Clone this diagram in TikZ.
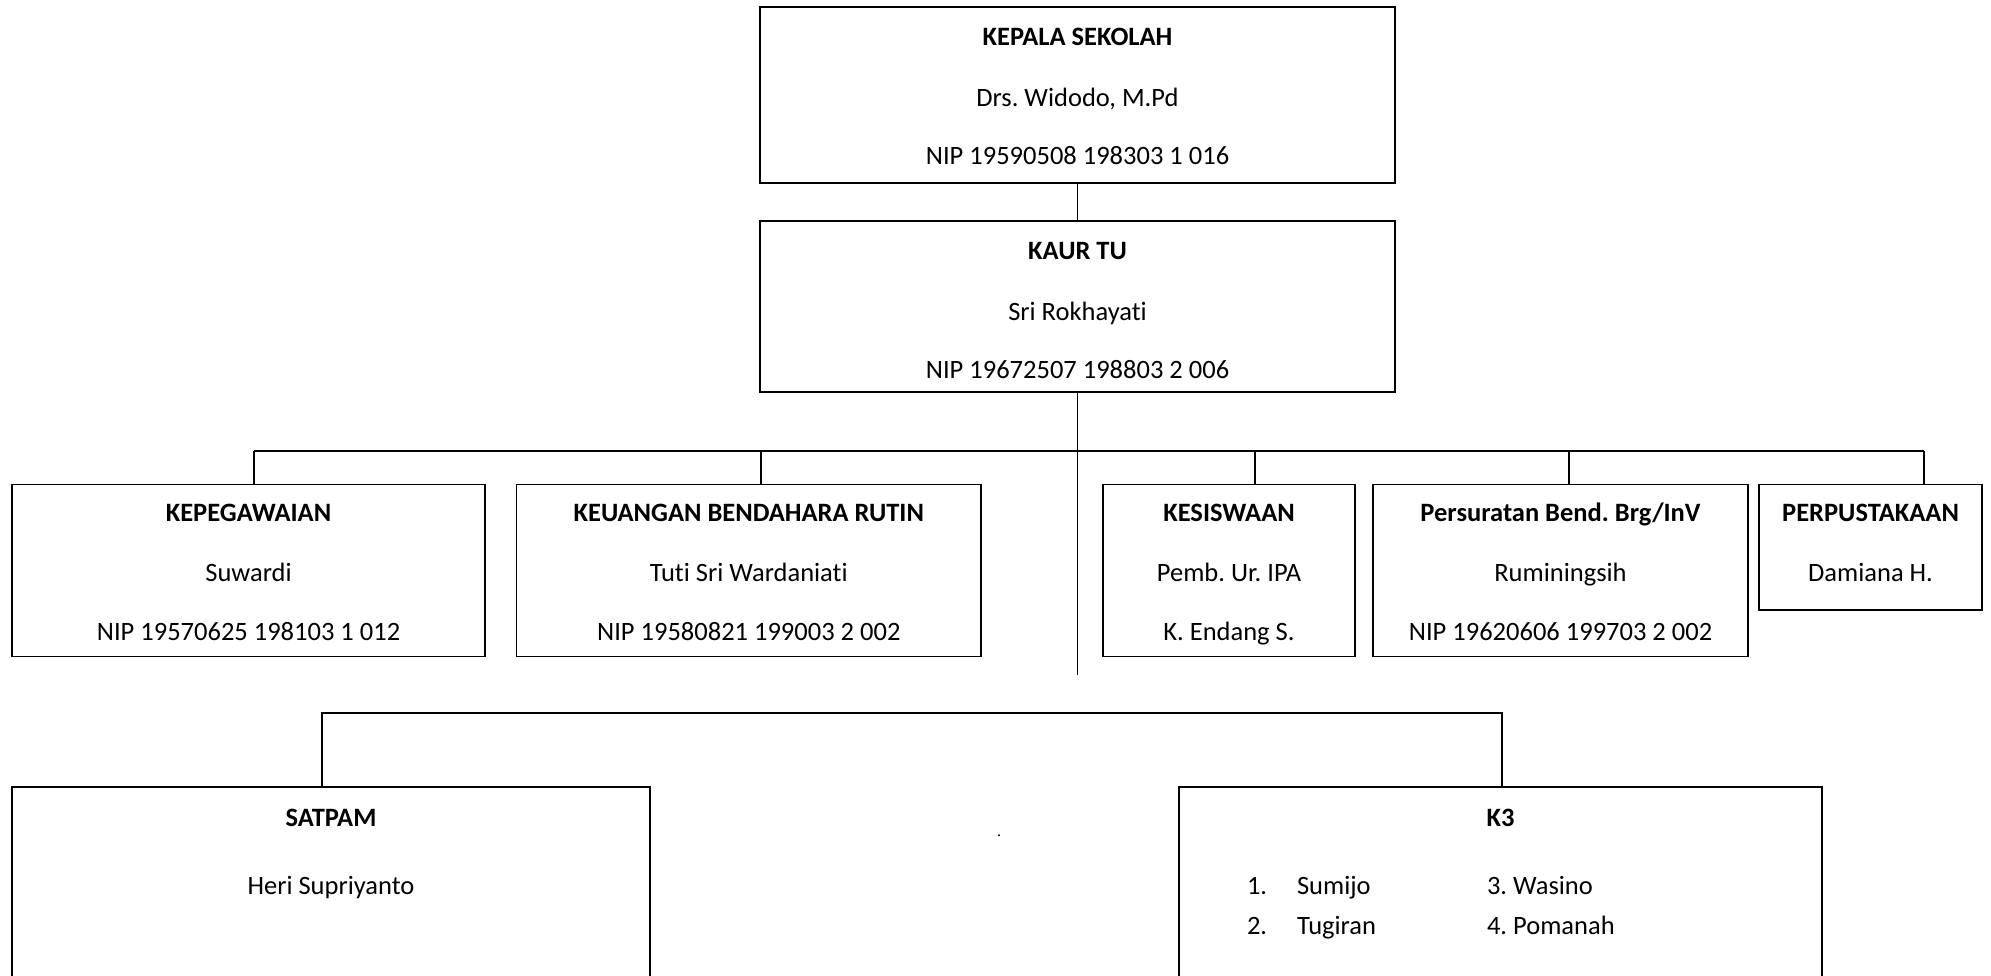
\documentclass[tikz,border=0pt]{standalone}
\usepackage{fontspec}
\setmainfont[Ligatures=NoCommon]{Carlito}
\frenchspacing
\begin{document}
\begin{tikzpicture}[x=1pt,y=-1pt,
  box/.style={draw, line width=1.8pt, inner sep=0pt, outer sep=0pt, anchor=north west},
  conn/.style={line width=1.8pt},
  txt/.style={inner sep=0pt, outer sep=0pt, anchor=base, font=\fontsize{26.5}{32}\selectfont},
  ttl/.style={txt, font=\fontsize{26.5}{32}\selectfont\bfseries}]
\clip (0,0) rectangle (1991,976);
\fill[white] (0,0) rectangle (1991,976);

% boxes
\node[box, minimum width=635pt, minimum height=175.5pt] (ks) at (760,7.3) {};
\node[box, minimum width=635pt, minimum height=171pt] (kaur) at (760,220.7) {};
\node[box, minimum width=473pt, minimum height=172pt] (kep) at (12,484.5) {};
\node[box, minimum width=464.5pt, minimum height=172pt] (keu) at (516.5,484.5) {};
\node[box, minimum width=252pt, minimum height=172pt] (kes) at (1103,484.5) {};
\node[box, minimum width=375pt, minimum height=172pt] (per) at (1373,484.5) {};
\node[box, minimum width=222.5pt, minimum height=125.5pt] (pus) at (1759.3,484.5) {};
\node[box, minimum width=638pt, minimum height=260pt] (sat) at (12,787.3) {};
\node[box, minimum width=643pt, minimum height=260pt] (k3) at (1179,787.3) {};

% texts
\node[ttl] (ksA) at ([yshift=-38pt]ks.north) {KEPALA SEKOLAH};
\node[txt] (ksB) at ([yshift=-99.5pt]ks.north) {Drs. Widodo, M.Pd};
\node[txt] (ksC) at ([yshift=-157.7pt]ks.north) {NIP 19590508 198303 1 016};

\node[ttl] (kaurA) at ([yshift=-39.3pt]kaur.north) {KAUR TU};
\node[txt] (kaurB) at ([yshift=-100pt]kaur.north) {Sri Rokhayati};
\node[txt] (kaurC) at ([yshift=-157.6pt]kaur.north) {NIP 19672507 198803 2 006};

\node[ttl] (kepA) at ([yshift=-37.2pt]kep.north) {KEPEGAWAIAN};
\node[txt] (kepB) at ([yshift=-97pt]kep.north) {Suwardi};
\node[txt] (kepC) at ([yshift=-155.5pt]kep.north) {NIP 19570625 198103 1 012};

\node[ttl] (keuA) at ([yshift=-37.2pt]keu.north) {KEUANGAN BENDAHARA RUTIN};
\node[txt] (keuB) at ([yshift=-97pt]keu.north) {Tuti Sri Wardaniati};
\node[txt] (keuC) at ([yshift=-155.5pt]keu.north) {NIP 19580821 199003 2 002};

\node[ttl] (kesA) at ([yshift=-37.2pt]kes.north) {KESISWAAN};
\node[txt] (kesB) at ([yshift=-97pt]kes.north) {Pemb. Ur. IPA};
\node[txt] (kesC) at ([yshift=-155.5pt]kes.north) {K. Endang S.};

\node[ttl] (perA) at ([yshift=-37.2pt]per.north) {Persuratan Bend. Brg/InV};
\node[txt] (perB) at ([yshift=-97pt]per.north) {Ruminingsih};
\node[txt] (perC) at ([yshift=-155.5pt]per.north) {NIP 19620606 199703 2 002};

\node[ttl] (pusA) at ([yshift=-37.2pt]pus.north) {PERPUSTAKAAN};
\node[txt] (pusB) at ([yshift=-96.5pt]pus.north) {Damiana H.};

\node[ttl] (satA) at ([yshift=-39pt]sat.north) {SATPAM};
\node[txt] (satB) at ([yshift=-107pt]sat.north) {Heri Supriyanto};

\node[ttl] (k3A) at ([yshift=-39pt]k3.north) {K3};
\node[txt, anchor=base west] (k3a) at (1247,894.3) {1.};
\node[txt, anchor=base west] (k3b) at (1297,894.3) {Sumijo};
\node[txt, anchor=base west] (k3c) at (1247,934.3) {2.};
\node[txt, anchor=base west] (k3d) at (1297,934.3) {Tugiran};
\node[txt, anchor=base west] (k3e) at (1487,894.3) {3. Wasino};
\node[txt, anchor=base west] (k3f) at (1487,934.3) {4. Pomanah};

% connector coordinates
\coordinate (cEnd) at (1080,675);
\coordinate (b1a) at (254,451);
\coordinate (b1b) at (761,451);
\coordinate (b1c) at (1255,451);
\coordinate (b1d) at (1569,451);
\coordinate (b1e) at (1924,451);
\coordinate (b2a) at (322,712.7);
\coordinate (b2b) at (1502,712.7);

% connectors
\draw[conn] (ks.south) -- (kaur.north);
\draw[conn] (kaur.south) -- (kaur.south |- cEnd);
\draw[conn] (b1a) -- (b1e);
\draw[conn] (b1a) -- (b1a |- kep.north);
\draw[conn] (b1b) -- (b1b |- keu.north);
\draw[conn] (b1c) -- (b1c |- kes.north);
\draw[conn] (b1d) -- (b1d |- per.north);
\draw[conn] (b1e) -- (b1e |- pus.north);
\draw[conn] (b2a |- sat.north) -- (b2a) -- (b2b) -- (b2b |- k3.north);

% stray dot
\fill (999,835.3) circle (1.1pt);
\end{tikzpicture}
\end{document}
